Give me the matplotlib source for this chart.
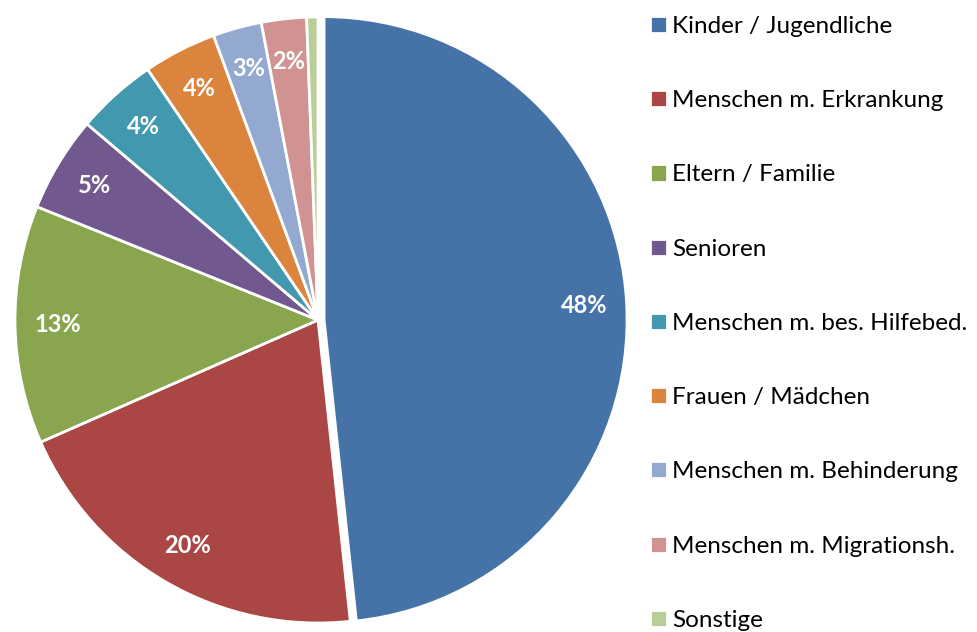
import matplotlib
matplotlib.use("Agg")
import matplotlib.pyplot as plt

categories = ["Kinder / Jugendliche", "Menschen m. Erkrankung", "Eltern / Familie",
              "Senioren", "Menschen m. bes. Hilfebed.", "Frauen / Mädchen",
              "Menschen m. Behinderung", "Menschen m. Migrationsh.", "Sonstige"]
values = [48.3, 20.1, 12.7, 5.1, 4.3, 3.9, 2.6, 2.4, 0.6]
colors = ["#4572A7", "#AA4643", "#89A54E", "#71588F", "#4198AF",
          "#DB843D", "#93A9CF", "#D19392", "#B9CD96"]
explode = [0.02, 0, 0, 0, 0, 0, 0, 0, 0]

plt.rcParams['font.family'] = ['Lato', 'DejaVu Sans']

W, H = 977, 632
fig = plt.figure(figsize=(W / 100, H / 100), dpi=100)
cx, cy, R = 318, 320, 303
half = 315
ax = fig.add_axes([(cx - half) / W, (H - cy - half) / H, 2 * half / W, 2 * half / H])
lim = half / R
ax.set_aspect('equal')
ax.axis('off')

def fmt(p):
    return f"{p:.0f}%" if p >= 1 else ""

wedges, texts, autotexts = ax.pie(
    values, colors=colors, explode=explode, startangle=90, counterclock=False,
    autopct=fmt, pctdistance=0.86, radius=1,
    wedgeprops=dict(edgecolor='white', linewidth=2),
    textprops=dict(color='white', fontsize=17, fontweight='bold'))
ax.set_xlim(-lim, lim)
ax.set_ylim(-lim, lim)

fig.legend(wedges, categories, loc='upper left',
           bbox_to_anchor=(650 / W, 1 - 16 / H), frameon=False,
           fontsize=17.5, labelspacing=2.19, handlelength=0.7, handleheight=0.7,
           handletextpad=0.22, borderaxespad=0, borderpad=0)

fig.savefig("out.png", dpi=100, facecolor='white')
